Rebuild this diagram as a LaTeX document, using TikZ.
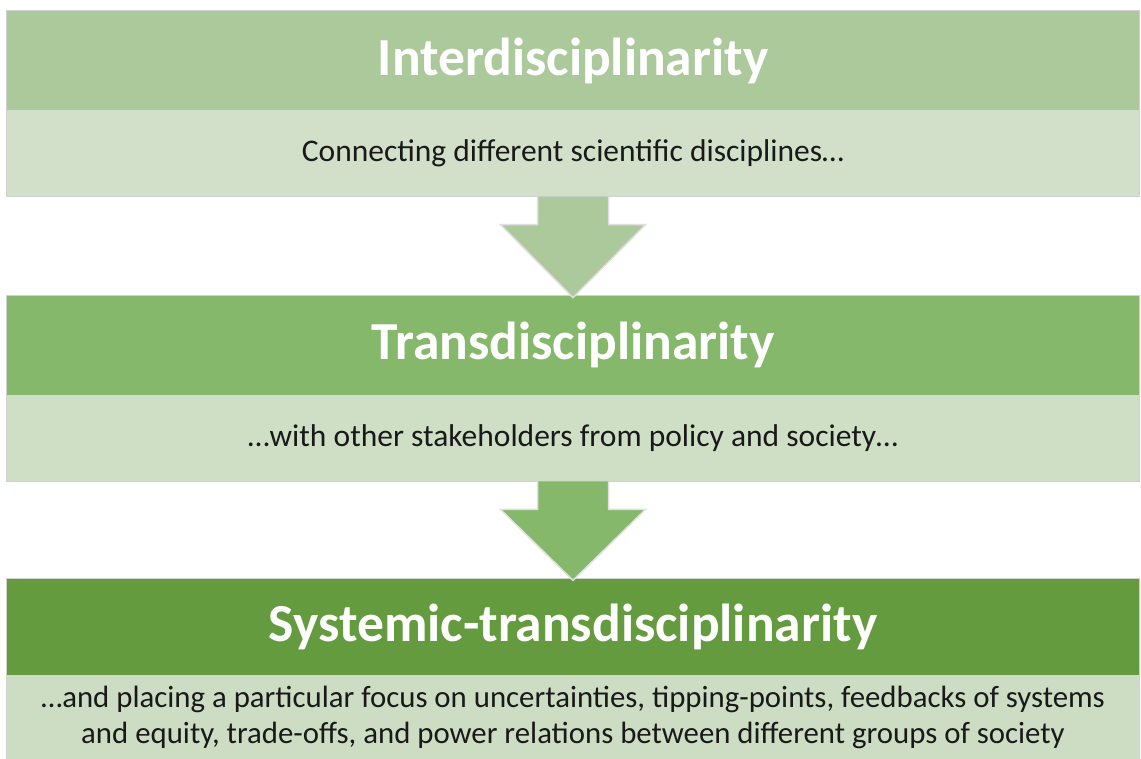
\documentclass[tikz,border=0pt]{standalone}
\usepackage{fontspec}
\setmainfont{Carlito}
\usetikzlibrary{positioning,calc}
\definecolor{headA}{HTML}{ACC99C}
\definecolor{headB}{HTML}{86B86B}
\definecolor{headC}{HTML}{659B3F}
\definecolor{bodyA}{HTML}{D2E0CA}
\definecolor{bodyB}{HTML}{CEDFC5}
\definecolor{bodyC}{HTML}{CDDDC3}
\begin{document}
\begin{tikzpicture}[
			head/.style = {rectangle, minimum width=1132pt, minimum height=99pt, inner sep=0pt,
				text=white, font=\fontsize{53.5}{60}\selectfont\bfseries},
			body/.style = {rectangle, minimum width=1132pt, minimum height=86pt, inner sep=0pt,
				text=black!90, align=center, font=\fontsize{31.5}{36}\selectfont},
			frame/.style = {draw=black!18, line width=1.2pt},
			blockarrow/.style = {draw=black!12, line width=1.5pt, line join=miter},
			node distance = 0pt]

			\def\sw{35.5pt}
			\def\hw{72.5pt}
			\def\sh{28pt}

			\useasboundingbox (0,0) rectangle (1141pt,-758pt);

			\node[head, fill=headA] (h1) at (573pt,-60.5pt) {Interdisciplinarity};
			\node[body, fill=bodyA, below=of h1] (b1) {Connecting different scientific disciplines…};

			\node[head, fill=headB, below=99pt of b1] (h2) {Transdisciplinarity};
			\node[body, fill=bodyB, below=of h2] (b2) {…with other stakeholders from policy and society…};

			\node[head, fill=headC, minimum height=96pt, below=97pt of b2] (h3) {Systemic-transdisciplinarity};
			\node[body, fill=bodyC, minimum height=84pt, below=of h3, font=\fontsize{30.8}{36}\selectfont] (b3) {…and placing a particular focus on uncertainties, tipping-points, feedbacks of systems\\and equity, trade-offs, and power relations between different groups of society};

			\draw[frame] (h1.north west) rectangle (b1.south east);
			\draw[frame] (h2.north west) rectangle (b2.south east);
			\draw[frame] (h3.north west) rectangle (b3.south east);

			\draw[blockarrow, fill=headA] ($(b1.south)+(-\sw,0)$) -- ++(0,-\sh) -- ($(b1.south)+(-\hw,-\sh)$)
				-- ($(h2.north)+(0,-2pt)$) -- ($(b1.south)+(\hw,-\sh)$) -- ($(b1.south)+(\sw,-\sh)$) -- ($(b1.south)+(\sw,0)$);
			\draw[blockarrow, fill=headB] ($(b2.south)+(-\sw,0)$) -- ++(0,-\sh) -- ($(b2.south)+(-\hw,-\sh)$)
				-- ($(h3.north)+(0,-2pt)$) -- ($(b2.south)+(\hw,-\sh)$) -- ($(b2.south)+(\sw,-\sh)$) -- ($(b2.south)+(\sw,0)$);

		\end{tikzpicture}
\end{document}
